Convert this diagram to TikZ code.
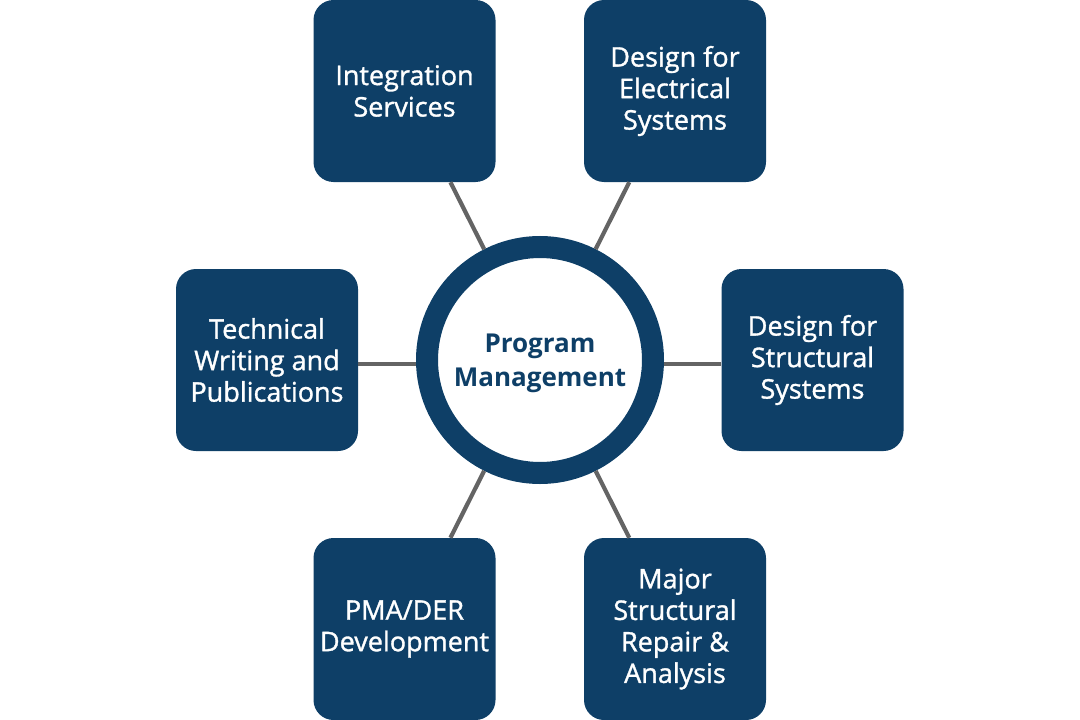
\documentclass[tikz,border=0pt]{standalone}
\usepackage{fontspec}
\setmainfont{Open Sans}
\newfontfamily\osSemi{Open Sans}[FakeBold=1.2]
\definecolor{navy}{RGB}{14,63,103}
\definecolor{linegray}{RGB}{100,100,100}
\begin{document}
\begin{tikzpicture}[x=1pt,y=-1pt,
  box/.style={fill=navy, rounded corners=20pt, minimum width=182pt, minimum height=182pt,
    inner sep=0pt, text=white, align=center, font=\osSemi\fontsize{27}{31.5}\selectfont},
  hub/.style={circle, draw=navy, line width=22pt, fill=white, minimum size=226pt,
    inner sep=0pt, text=navy, align=center, font=\bfseries\fontsize{26}{32}\selectfont},
  conn/.style={draw=linegray, line width=4.2pt}]
\useasboundingbox (0,0) rectangle (1080,720);
\node[box] (int) at (404.5,91) {Integration\\Services};
\node[box] (ele) at (675,91) {Design for\\Electrical\\Systems};
\node[box] (tec) at (267,360) {Technical\\Writing and\\Publications};
\node[box] (str) at (812.5,360) {Design for\\Structural\\Systems};
\node[box] (pma) at (404.5,629) {PMA/DER\\Development};
\node[box] (maj) at (675,629) {Major\\Structural\\Repair \&\\Analysis};
\node[hub] (pm) at (540,360) {\raisebox{-3pt}[\height][\depth]{\begin{tabular}{@{}c@{}}Program\\[1.5pt]Management\end{tabular}}};
\draw[conn] (int) -- (pm);
\draw[conn] (ele) -- (pm);
\draw[conn] ([yshift=-4pt]tec.east) -- ([yshift=-4pt]pm.west);
\draw[conn] ([yshift=-4pt]str.west) -- ([yshift=-4pt]pm.east);
\draw[conn] (pma) -- (pm);
\draw[conn] (maj) -- (pm);
\end{tikzpicture}
\end{document}
